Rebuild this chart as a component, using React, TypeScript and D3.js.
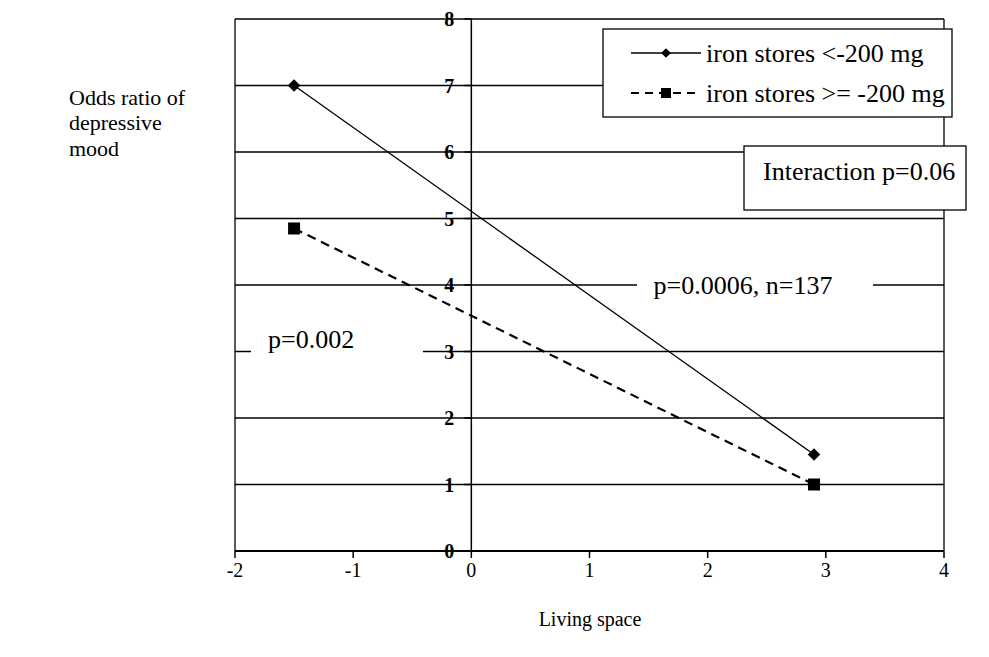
import React from "react";
import * as d3 from "d3";

const livingSpace = [-1.5, 2.9];
const ironLow = [7.0, 1.45];
const ironHigh = [4.85, 1.0];
const xTickValues = [-2, -1, 0, 1, 2, 3, 4];
const yTickValues = [0, 1, 2, 3, 4, 5, 6, 7, 8];
const seriesNames = ["iron stores <-200 mg", "iron stores >= -200 mg"];
const yLabelLines = ["Odds ratio of", "depressive", "mood"];
const xTitle = "Living space";
const notes = ["Interaction p=0.06", "p=0.0006, n=137", "p=0.002"];

const W = 989;
const H = 657;
const FONT = "'Liberation Serif', 'Times New Roman', serif";

export default function App() {
  const x = d3.scaleLinear().domain([-2, 4]).range([235, 944]);
  const y = d3.scaleLinear().domain([0, 8]).range([551, 19]);
  const line = d3
    .line<[number, number]>()
    .x((d) => x(d[0]))
    .y((d) => y(d[1]));
  const lowPts: [number, number][] = livingSpace.map((v, i) => [v, ironLow[i]]);
  const highPts: [number, number][] = livingSpace.map((v, i) => [v, ironHigh[i]]);
  const x0 = x(0);
  const fs = 20;
  const big = 26;

  return (
    <svg
      width={W}
      height={H}
      style={{ position: "absolute", left: 0, top: 0, background: "#fff" }}
      fontFamily={FONT}
    >
      <rect x={0} y={0} width={W} height={H} fill="#fff" />
      {/* grid lines */}
      {yTickValues.map((t) => (
        <line
          key={"g" + t}
          x1={x(-2)}
          x2={x(4)}
          y1={y(t)}
          y2={y(t)}
          stroke="#000"
          strokeWidth={t === 0 ? 2 : 1.3}
        />
      ))}
      {/* left and right borders */}
      <line x1={x(-2)} x2={x(-2)} y1={y(8)} y2={y(0)} stroke="#000" strokeWidth={1.3} />
      <line x1={x(4)} x2={x(4)} y1={y(8)} y2={y(0)} stroke="#000" strokeWidth={1.3} />
      {/* vertical axis at 0 */}
      <line x1={x0} x2={x0} y1={y(8)} y2={y(0)} stroke="#000" strokeWidth={1.5} />
      {yTickValues.map((t) => (
        <g key={"yt" + t}>
          <line x1={x0 - 7} x2={x0} y1={y(t)} y2={y(t)} stroke="#000" strokeWidth={1.5} />
          <text
            x={x0 - 17}
            y={y(t)}
            dy="0.35em"
            textAnchor="end"
            fontWeight="bold"
            fontSize={20}
          >
            {t}
          </text>
        </g>
      ))}
      {/* x ticks */}
      {xTickValues.map((t) => (
        <g key={"xt" + t}>
          <line x1={x(t)} x2={x(t)} y1={y(0)} y2={y(0) + 7} stroke="#000" strokeWidth={1.5} />
          <text x={x(t)} y={y(0) + 19} dy="0.35em" textAnchor="middle" fontSize={fs}>
            {t}
          </text>
        </g>
      ))}
      <text x={590} y={619} dy="0.35em" textAnchor="middle" fontSize={fs}>
        {xTitle}
      </text>
      {yLabelLines.map((s, i) => (
        <text key={s} x={69} y={97 + i * 25.5} dy="0.35em" fontSize={22}>
          {s}
        </text>
      ))}
      {/* annotation p=0.002 */}
      <rect x={251} y={y(3) - 18} width={172} height={36} fill="#fff" />
      <text x={268} y={y(3) - 13} dy="0.35em" fontSize={big}>
        {notes[2]}
      </text>
      {/* annotation p=0.0006 */}
      <rect x={637} y={y(4) - 18} width={236} height={36} fill="#fff" />
      <text x={743} y={y(4)} dy="0.35em" textAnchor="middle" fontSize={big}>
        {notes[1]}
      </text>
      {/* series lines */}
      <path d={line(lowPts) || ""} fill="none" stroke="#000" strokeWidth={1.3} />
      <path
        d={line(highPts) || ""}
        fill="none"
        stroke="#000"
        strokeWidth={2.2}
        strokeDasharray="9,6"
      />
      {lowPts.map((p, i) => (
        <path
          key={"d" + i}
          d={d3.symbol(d3.symbolDiamond2, 100)() || ""}
          transform={`translate(${x(p[0])},${y(p[1])})`}
          fill="#000"
        />
      ))}
      {highPts.map((p, i) => (
        <rect key={"s" + i} x={x(p[0]) - 6} y={y(p[1]) - 6} width={12} height={12} fill="#000" />
      ))}
      {/* legend */}
      <rect x={603} y={29} width={349} height={88} fill="#fff" stroke="#000" strokeWidth={1.3} />
      <line x1={631} x2={701} y1={53} y2={53} stroke="#000" strokeWidth={1.3} />
      <path d={d3.symbol(d3.symbolDiamond2, 60)() || ""} transform="translate(666,53)" fill="#000" />
      <text x={706} y={53} dy="0.35em" fontSize={big}>
        {seriesNames[0]}
      </text>
      <line x1={631} x2={701} y1={93} y2={93} stroke="#000" strokeWidth={2} strokeDasharray="8,6" />
      <rect x={661} y={88} width={10} height={10} fill="#000" />
      <text x={706} y={93} dy="0.35em" fontSize={big}>
        {seriesNames[1]}
      </text>
      {/* interaction box */}
      <rect x={744} y={146} width={222} height={64} fill="#fff" stroke="#000" strokeWidth={1.3} />
      <text x={763} y={171} dy="0.35em" fontSize={big}>
        {notes[0]}
      </text>
    </svg>
  );
}
